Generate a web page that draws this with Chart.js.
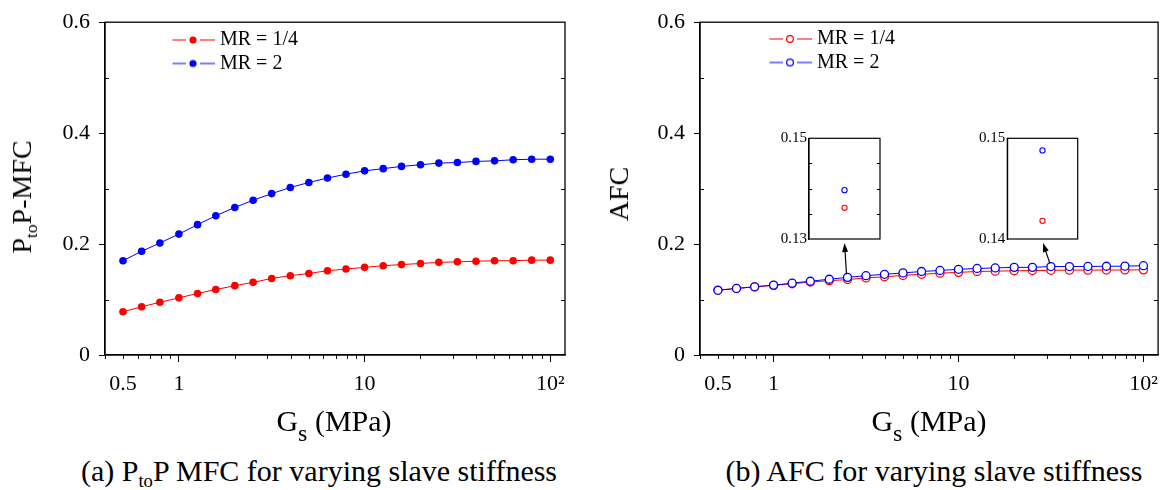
<!DOCTYPE html>
<html><head><meta charset="utf-8">
<script src="https://cdn.jsdelivr.net/npm/chart.js@4.4.1/dist/chart.umd.min.js"></script>
<style>
html,body{margin:0;padding:0;background:#fff}
body{width:1167px;height:490px;overflow:hidden;position:relative;font-family:"Liberation Serif","Times New Roman",serif;color:#000}
canvas{position:absolute;display:block}
.t{position:absolute;white-space:nowrap;line-height:1}
.yt{font-size:28px;transform:translate(-50%,-50%) rotate(-90deg)}
.xt{font-size:30px;transform:translateX(-50%)}
.cap{font-size:30px;transform:translateX(-50%)}
sub{font-size:0.62em;vertical-align:baseline;position:relative;top:0.32em;line-height:0}
sub.s{font-size:0.8em;top:0.42em}
</style></head>
<body>
<canvas id="cA" width="583" height="445" style="left:0;top:0"></canvas>
<canvas id="cB" width="584" height="445" style="left:583px;top:0"></canvas>
<canvas id="iA" width="125" height="125" style="left:765px;top:125px"></canvas>
<canvas id="iB" width="125" height="125" style="left:963px;top:125px"></canvas>

<div class="t yt" style="left:22px;top:197px">P<sub>to</sub>P-MFC</div>
<div class="t yt" style="left:619px;top:194px">AFC</div>
<div class="t xt" style="left:334px;top:406px">G<sub class="s">s</sub> (MPa)</div>
<div class="t xt" style="left:929px;top:406px">G<sub class="s">s</sub> (MPa)</div>
<div class="t cap" style="left:319px;top:456px">(a) P<sub>to</sub>P MFC for varying slave stiffness</div>
<div class="t cap" style="left:934px;top:456px">(b) AFC for varying slave stiffness</div>

<script>
// ---------------- data ----------------
const gsMPa = [0.5, 0.63, 0.79, 1.0, 1.26, 1.58, 2.0, 2.51, 3.16, 3.98, 5.01, 6.31, 7.94, 10.0, 12.6, 15.8, 20.0, 25.1, 31.6, 39.8, 50.1, 63.1, 79.4, 100];
const seriesLabels = ['MR = 1/4', 'MR = 2'];
const mfcMR14 = [0.078, 0.087, 0.095, 0.103, 0.111, 0.118, 0.125, 0.131, 0.138, 0.143, 0.147, 0.152, 0.155, 0.158, 0.161, 0.163, 0.165, 0.167, 0.168, 0.169, 0.170, 0.170, 0.171, 0.171];
const mfcMR2  = [0.170, 0.187, 0.202, 0.218, 0.235, 0.251, 0.266, 0.279, 0.291, 0.302, 0.311, 0.319, 0.326, 0.332, 0.336, 0.340, 0.343, 0.346, 0.347, 0.349, 0.350, 0.352, 0.353, 0.353];
const afcMR14 = [0.117, 0.120, 0.1228, 0.1255, 0.1285, 0.1315, 0.134, 0.136, 0.139, 0.141, 0.1435, 0.1455, 0.1475, 0.149, 0.1505, 0.1512, 0.1518, 0.1522, 0.1527, 0.153, 0.153, 0.1532, 0.1533, 0.1535];
const afcMR2  = [0.1166, 0.120, 0.123, 0.126, 0.1295, 0.133, 0.1366, 0.140, 0.143, 0.1455, 0.148, 0.1505, 0.1525, 0.1545, 0.156, 0.157, 0.158, 0.158, 0.1595, 0.1595, 0.1597, 0.160, 0.1602, 0.161];

const xTickValues = [0.5, 1, 10, 100];
const xTickText = ['0.5', '1', '10', '10\u00B2'];
const xMinorTicks = [0.4, 0.5, 0.6, 0.7, 0.8, 0.9, 2, 3, 4, 5, 6, 7, 8, 9, 20, 30, 40, 50, 60, 70, 80, 90];
const yTickValues = [0, 0.2, 0.4, 0.6];
const yTickText = ['0', '0.2', '0.4', '0.6'];
const yMinorLeft = [0.1, 0.3, 0.5];
const yMinorRight = [0.1, 0.2, 0.3, 0.4, 0.5];

// zoomed insets in panel (b)
const insetA_G = [2.51];
const insetA_MR14 = [0.1362];
const insetA_MR2 = [0.1397];
const insetA_yTicks = [0.13, 0.15];
const insetA_yText = ['0.13', '0.15'];
const insetA_minor = [0.135, 0.14, 0.145];
const insetB_G = [31.6];
const insetB_MR14 = [0.1418];
const insetB_MR2 = [0.1488];
const insetB_yTicks = [0.14, 0.15];
const insetB_yText = ['0.14', '0.15'];

// ---------------- style ----------------
const RED = '#ff0000', BLUE = '#0000ff';
const FONT = "'Liberation Serif', 'Times New Roman', serif";

function legendSymbol(color, filled) {
  const c = document.createElement('canvas');
  c.width = 44; c.height = 12;
  const g = c.getContext('2d');
  g.strokeStyle = color; g.lineWidth = 1.2;
  g.beginPath(); g.moveTo(0, 6); g.lineTo(15, 6); g.moveTo(29, 6); g.lineTo(44, 6); g.stroke();
  g.beginPath(); g.arc(22, 6, filled ? 3.6 : 3.4, 0, Math.PI * 2);
  if (filled) { g.fillStyle = color; g.fill(); } else { g.lineWidth = 1.2; g.stroke(); }
  return c;
}

const decor = {
  id: 'decor',
  afterDraw(chart, args, o) {
    const {ctx, chartArea: a, scales} = chart;
    ctx.save();
    ctx.strokeStyle = '#000';
    ctx.lineWidth = o.frameWidth || 1.3;
    ctx.strokeRect(a.left, a.top, a.right - a.left, a.bottom - a.top);
    ctx.lineWidth = 1;
    (o.xMinor || []).forEach(v => {
      const x = Math.round(scales.x.getPixelForValue(v)) + 0.5;
      ctx.beginPath(); ctx.moveTo(x, a.bottom); ctx.lineTo(x, a.bottom + o.xMinorLen); ctx.stroke();
    });
    (o.yMinorL || []).forEach(v => {
      const y = Math.round(scales.y.getPixelForValue(v)) + 0.5;
      ctx.beginPath(); ctx.moveTo(a.left, y); ctx.lineTo(a.left + o.yMinorLen, y); ctx.stroke();
    });
    (o.yMinorR || []).forEach(v => {
      const y = Math.round(scales.y.getPixelForValue(v)) + 0.5;
      ctx.beginPath(); ctx.moveTo(a.right, y); ctx.lineTo(a.right - o.yMinorLen, y); ctx.stroke();
    });
    (o.arrows || []).forEach(ar => {
      const p = chart.getDatasetMeta(ar.dataset).data[ar.index];
      const tx = p.x - 1, ty = p.y - 3, hx = ar.hx, hy = ar.hy;
      const ang = Math.atan2(hy - ty, hx - tx);
      const L = 9, W = 3;
      ctx.lineWidth = 1.2; ctx.fillStyle = '#000';
      ctx.beginPath(); ctx.moveTo(tx, ty);
      ctx.lineTo(hx - Math.cos(ang) * L * 0.8, hy - Math.sin(ang) * L * 0.8); ctx.stroke();
      ctx.beginPath(); ctx.moveTo(hx, hy);
      ctx.lineTo(hx - Math.cos(ang) * L - Math.sin(ang) * W, hy - Math.sin(ang) * L + Math.cos(ang) * W);
      ctx.lineTo(hx - Math.cos(ang) * L + Math.sin(ang) * W, hy - Math.sin(ang) * L - Math.cos(ang) * W);
      ctx.closePath(); ctx.fill();
    });
    ctx.restore();
  }
};

const legendPlace = {
  id: 'legendPlace',
  afterLayout(chart, args, o) {
    const l = chart.legend;
    if (!l || o.x === undefined) return;
    l.left = o.x; l.top = o.y;
    l.width = 300; l.right = l.left + 300;
    l.bottom = l.top + 80; l.height = 80;
  }
};

function mainChart(id, mr14, mr2, hollow, cfg) {
  const pts = arr => gsMPa.map((g, i) => ({x: g, y: arr[i]}));
  const syms = [legendSymbol(BLUE, !hollow), legendSymbol(RED, !hollow)];
  const ds = (label, data, color) => ({
    label, data: pts(data), borderColor: color, backgroundColor: color,
    borderWidth: 1, tension: 0,
    pointRadius: hollow ? 4 : 3.8,
    pointBorderWidth: hollow ? 1.3 : 0,
    pointBackgroundColor: hollow ? '#fff' : color,
    pointBorderColor: color
  });
  return new Chart(document.getElementById(id), {
    type: 'line',
    data: {datasets: [ds(seriesLabels[1], mr2, BLUE), ds(seriesLabels[0], mr14, RED)]},
    options: {
      responsive: false, animation: false,
      layout: {padding: {top: 16, right: cfg.padR, left: 0, bottom: 0}},
      scales: {
        x: {
          type: 'logarithmic', min: 0.4, max: 120,
          afterBuildTicks: s => { s.ticks = xTickValues.map(v => ({value: v})); },
          afterFit: s => { s.height = 90; },
          ticks: {autoSkip: false, maxRotation: 0, minRotation: 0, padding: 9, color: '#000',
                  font: {family: FONT, size: 22}, callback: (v, i) => xTickText[i]},
          grid: {drawOnChartArea: false, drawTicks: true, tickLength: 7, tickWidth: 1,
                 tickColor: c => (c.tick && c.tick.value === 0.5) ? 'rgba(0,0,0,0)' : '#000'},
          border: {display: true, color: '#000', width: 1.3}
        },
        y: {
          min: 0, max: 0.6,
          afterBuildTicks: s => { s.ticks = yTickValues.map(v => ({value: v})); },
          afterFit: s => { s.width = cfg.yWidth; },
          ticks: {padding: 9, color: '#000', font: {family: FONT, size: 22}, callback: (v, i) => yTickText[i]},
          grid: {drawOnChartArea: false, drawTicks: true, tickLength: 6, tickWidth: 1, tickColor: '#000'},
          border: {display: true, color: '#000', width: 1.3}
        }
      },
      plugins: {
        tooltip: {enabled: false},
        legend: {
          position: 'chartArea', align: 'start',
          labels: {
            usePointStyle: true, pointStyleWidth: 34, padding: 3.5, color: '#000',
            font: {family: FONT, size: 20},
            generateLabels: ch => [1, 0].map(i => ({
              text: ch.data.datasets[i].label, pointStyle: syms[i], datasetIndex: i,
              hidden: false, lineWidth: 0, fillStyle: '#000', strokeStyle: '#000', fontColor: '#000'
            }))
          }
        },
        legendPlace: {x: cfg.legX, y: cfg.legY},
        decor: {xMinor: xMinorTicks, xMinorLen: 4, yMinorL: yMinorLeft, yMinorR: yMinorRight, yMinorLen: 4,
                arrows: cfg.arrows || []}
      }
    },
    plugins: [decor, legendPlace]
  });
}

function insetChart(id, g, mr14, mr2, yTicks, yText, cfg) {
  const ds = (label, data, color) => ({
    label, data: g.map((x, i) => ({x, y: data[i]})), showLine: false,
    borderColor: color, backgroundColor: '#fff', pointRadius: 2.6, pointBorderWidth: 1.1,
    pointBackgroundColor: '#fff', pointBorderColor: color
  });
  return new Chart(document.getElementById(id), {
    type: 'line',
    data: {datasets: [ds(seriesLabels[1], mr2, BLUE), ds(seriesLabels[0], mr14, RED)]},
    options: {
      responsive: false, animation: false,
      layout: {padding: {top: 13.3, right: cfg.padR, left: 0, bottom: 10}},
      scales: {
        x: {type: 'logarithmic', display: false, min: g[0] / 1.3, max: g[0] * 1.3},
        y: {
          min: yTicks[0], max: yTicks[1],
          afterBuildTicks: s => { s.ticks = yTicks.map(v => ({value: v})); },
          afterFit: s => { s.width = cfg.yWidth; },
          ticks: {padding: 2, color: '#000', font: {family: FONT, size: 15}, callback: (v, i) => yText[i]},
          grid: {drawOnChartArea: false, drawTicks: false},
          border: {display: true, color: '#000', width: 1.2}
        }
      },
      plugins: {
        tooltip: {enabled: false}, legend: {display: false},
        decor: {frameWidth: 1.2, yMinorL: cfg.minor || [], yMinorR: cfg.minor || [], yMinorLen: 3}
      }
    },
    plugins: [decor]
  });
}

function build() {
  mainChart('cA', mfcMR14, mfcMR2, false, {yWidth: 105, padR: 18, legX: 172.5, legY: 26.5});
  mainChart('cB', afcMR14, afcMR2, true, {yWidth: 117, padR: 8, legX: 186.5, legY: 25.5,
    arrows: [{dataset: 0, index: 7, hx: 844.5 - 583, hy: 243}, {dataset: 0, index: 18, hx: 1043 - 583, hy: 243}]});
  insetChart('iA', insetA_G, insetA_MR14, insetA_MR2, insetA_yTicks, insetA_yText, {yWidth: 44, padR: 10, minor: insetA_minor});
  insetChart('iB', insetB_G, insetB_MR14, insetB_MR2, insetB_yTicks, insetB_yText, {yWidth: 44.3, padR: 10.3});
}
Promise.all([
  document.fonts.load('22px "Liberation Serif"'),
  document.fonts.load('20px "Liberation Serif"')
]).then(build, build);
</script>
</body></html>
